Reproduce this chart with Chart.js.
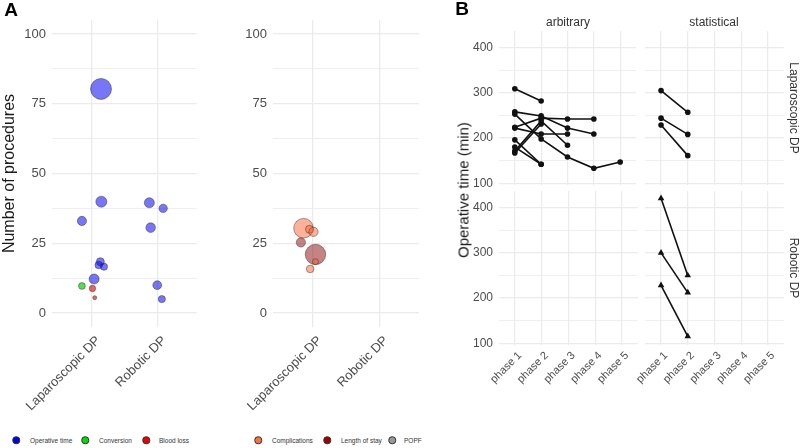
<!DOCTYPE html>
<html>
<head>
<meta charset="utf-8">
<script src="https://cdn.jsdelivr.net/npm/chart.js@4.4.0/dist/chart.umd.min.js"></script>
<style>
body { margin: 0; width: 800px; height: 448px; position: relative; background: #fff; overflow: hidden;
       font-family: "Liberation Sans", Arial, sans-serif; }
canvas { position: absolute; }
.t { position: absolute; white-space: nowrap; transform: translate(-50%, -50%); color: #1a1a1a; }
.tag { font-weight: bold; font-size: 19px; color: #000; }
.strip { font-size: 12px; color: #333; }
.leg { position: absolute; font-size: 6.5px; color: #333; white-space: nowrap; transform: translateY(-50%); }
.dot { position: absolute; width: 5.5px; height: 5.5px; border-radius: 50%; border: 0.8px solid #333; transform: translate(-50%, -50%); }
</style>
</head>
<body>
<canvas id="a1"></canvas>
<canvas id="a2"></canvas>
<canvas id="btl"></canvas>
<canvas id="bbl"></canvas>
<canvas id="btr"></canvas>
<canvas id="bbr"></canvas>

<div class="t tag" style="left:11px;top:10px">A</div>
<div class="t tag" style="left:462px;top:9px">B</div>
<div class="t strip" style="left:568px;top:22px">arbitrary</div>
<div class="t strip" style="left:714px;top:22px">statistical</div>
<div class="t strip" style="left:794px;top:108px;transform:translate(-50%,-50%) rotate(90deg)">Laparoscopic DP</div>
<div class="t strip" style="left:794px;top:268px;transform:translate(-50%,-50%) rotate(90deg)">Robotic DP</div>
<div class="t" style="left:463px;top:190px;font-size:15px;transform:translate(-50%,-50%) rotate(-90deg)">Operative time (min)</div>
<div id="legends"></div>

<script>
// ---- panel A: number of procedures per outcome ----
const procedures = ['Laparoscopic DP', 'Robotic DP'];
const countTicks = [0, 12.5, 25, 37.5, 50, 62.5, 75, 87.5, 100];

// [x (1 = laparoscopic, 2 = robotic, jittered), number of procedures, bubble radius]
const operativeTime = [
    [1.145, 80.3, 10.5], [1.15, 39.9, 5.5], [0.855, 33.0, 4.6], [1.135, 18.4, 4],
    [1.11, 17.2, 3.8], [1.19, 16.6, 3.6], [1.04, 12.2, 5],
    [1.88, 39.5, 5], [2.09, 37.5, 4.2], [1.9, 30.6, 4.8], [2.0, 10.0, 4.4], [2.07, 5.0, 3.6]
];
const conversion = [[0.855, 9.7, 3.4]];
const bloodLoss = [[1.015, 8.8, 3.2], [1.05, 5.5, 2]];
const complications = [[0.86, 30.4, 9.8], [0.95, 30.0, 4], [1.01, 29.1, 4.6], [0.96, 15.8, 3.8], [1.04, 18.4, 3]];
const lengthOfStay = [[0.82, 25.3, 4.6], [1.04, 21.0, 10.2]];
const popf = [];

// ---- panel B: operative time per phase of the learning curve ----
const phases = ['phase 1', 'phase 2', 'phase 3', 'phase 4', 'phase 5'];
const timeTicks = [100, 150, 200, 250, 300, 350, 400];
const lapArbitrary = [
    [309, 282], [258, 249, 222, 209], [253, 198, 158, 133, 147], [224, 244, 242, 242],
    [222, 209, 209], [196, 142], [180, 142], [171, 238, 184], [167, 231]
];
const lapStatistical = [[305, 257], [244, 208], [229, 161]];
const robArbitrary = [];
const robStatistical = [[421, 250], [300, 212], [228, 115]];

const grey = '#4d4d4d';
const gridCol = '#ebebeb';
Chart.defaults.font.family = '"Liberation Sans", Arial, sans-serif';

function build(id, type, box, area, datasets, xAxis, yAxis) {
    const cv = document.getElementById(id);
    cv.width = box.w;
    cv.height = box.h;
    cv.style.left = box.x + 'px';
    cv.style.top = box.y + 'px';
    return new Chart(cv, {
        type: type,
        data: { datasets: datasets },
        options: {
            responsive: false,
            animation: false,
            events: [],
            layout: { padding: { left: 0, top: area.t - box.y, right: box.x + box.w - area.r, bottom: 0 } },
            plugins: { legend: { display: false }, tooltip: { enabled: false } },
            scales: {
                x: Object.assign({ type: 'linear', afterFit: s => { s.height = box.y + box.h - area.b; } }, xAxis),
                y: Object.assign({ type: 'linear', afterFit: s => { s.width = area.l - box.x; } }, yAxis)
            }
        }
    });
}

function fixedTicks(vals) {
    return s => { s.ticks = vals.map(v => ({ value: v })); };
}

// panel A axes
function procAxis() {
    return {
        min: 0.4, max: 2.6,
        afterBuildTicks: fixedTicks([1, 2]),
        ticks: { color: grey, font: { size: 13 }, minRotation: 45, maxRotation: 45, autoSkip: false, padding: 6,
                 labelOffset: 7, callback: v => procedures[v - 1] },
        grid: { color: gridCol, lineWidth: 1.3, drawTicks: false },
        border: { display: false }
    };
}
function countAxis(title) {
    return {
        min: -5, max: 105,
        afterBuildTicks: fixedTicks(countTicks),
        ticks: { color: grey, font: { size: 13 }, padding: 6, callback: v => v % 25 === 0 ? v : '' },
        grid: { color: gridCol, lineWidth: c => c.tick && c.tick.value % 25 === 0 ? 1.3 : 0.8, drawTicks: false },
        border: { display: false },
        title: { display: !!title, text: title || '', color: '#1a1a1a', font: { size: 16 }, padding: 0 }
    };
}
function bubbles(label, pts, fill) {
    return {
        label: label,
        data: pts.map(p => ({ x: p[0], y: p[1], r: p[2] })),
        backgroundColor: fill,
        borderColor: 'rgba(40,40,40,0.55)',
        borderWidth: 0.8
    };
}

const seriesA1 = [
    bubbles('Operative time', operativeTime, 'rgba(10,10,240,0.56)'),
    bubbles('Conversion', conversion, 'rgba(0,200,0,0.65)'),
    bubbles('Blood loss', bloodLoss, 'rgba(220,0,0,0.6)')
];
const seriesA2 = [
    bubbles('Complications', complications, 'rgba(250,100,50,0.5)'),
    bubbles('Length of stay', lengthOfStay, 'rgba(140,10,10,0.5)'),
    bubbles('POPF', popf, 'rgba(130,130,130,0.5)')
];

build('a1', 'bubble', { x: 0, y: 0, w: 208, h: 425 }, { l: 52, t: 20, r: 205, b: 327 },
      seriesA1, procAxis(), countAxis('Number of procedures'));
build('a2', 'bubble', { x: 212, y: 0, w: 218, h: 425 }, { l: 273, t: 20, r: 425, b: 327 },
      seriesA2, procAxis(), countAxis());

// panel B axes
function phaseAxis(show) {
    return {
        min: 0.4, max: 5.6,
        afterBuildTicks: fixedTicks([1, 2, 3, 4, 5]),
        ticks: { display: show, color: grey, font: { size: 11 }, minRotation: 45, maxRotation: 45, autoSkip: false, padding: 4,
                 labelOffset: 5, callback: v => phases[v - 1] },
        grid: { color: gridCol, lineWidth: 1.2, drawTicks: false },
        border: { display: false }
    };
}
function timeAxis(show) {
    return {
        min: 96, max: 437,
        afterBuildTicks: fixedTicks(timeTicks),
        ticks: { display: show, color: grey, font: { size: 12 }, padding: 6, callback: v => v % 100 === 0 ? v : '' },
        grid: { color: gridCol, lineWidth: c => c.tick && c.tick.value % 100 === 0 ? 1.2 : 0.8, drawTicks: false },
        border: { display: false }
    };
}
function studies(rows, shape) {
    return rows.map(vals => ({
        data: vals.map((v, i) => ({ x: i + 1, y: v })),
        borderColor: '#111',
        backgroundColor: '#111',
        borderWidth: 1.6,
        pointStyle: shape,
        pointRadius: shape === 'triangle' ? 3.8 : 2.8,
        pointBorderWidth: 0,
        tension: 0
    }));
}

build('btl', 'line', { x: 455, y: 0, w: 185, h: 205 }, { l: 499, t: 31, r: 638, b: 185 },
      studies(lapArbitrary, 'circle'), phaseAxis(false), timeAxis(true));
build('bbl', 'line', { x: 455, y: 170, w: 185, h: 278 }, { l: 499, t: 191, r: 638, b: 345 },
      studies(robArbitrary, 'triangle'), phaseAxis(true), timeAxis(true));
build('btr', 'line', { x: 620, y: 0, w: 168, h: 205 }, { l: 645, t: 31, r: 784, b: 185 },
      studies(lapStatistical, 'circle'), phaseAxis(false), timeAxis(false));
build('bbr', 'line', { x: 620, y: 170, w: 168, h: 278 }, { l: 645, t: 191, r: 784, b: 345 },
      studies(robStatistical, 'triangle'), phaseAxis(true), timeAxis(false));

// legends under panel A
const legendItems = [
    { text: 'Operative time', color: '#0000ee', dot: 16, label: 30 },
    { text: 'Conversion', color: '#00dd00', dot: 85, label: 99 },
    { text: 'Blood loss', color: '#ee0000', dot: 146, label: 159 },
    { text: 'Complications', color: '#ff7040', dot: 258, label: 272 },
    { text: 'Length of stay', color: '#a00000', dot: 327, label: 341 },
    { text: 'POPF', color: '#999999', dot: 392, label: 404 }
];
const legendY = 440;
const legBox = document.getElementById('legends');
legendItems.forEach(it => {
    const d = document.createElement('div');
    d.className = 'dot';
    d.style.left = it.dot + 'px';
    d.style.top = legendY + 'px';
    d.style.background = it.color;
    legBox.appendChild(d);
    const s = document.createElement('div');
    s.className = 'leg';
    s.style.left = it.label + 'px';
    s.style.top = legendY + 'px';
    s.textContent = it.text;
    legBox.appendChild(s);
});
</script>
</body>
</html>
